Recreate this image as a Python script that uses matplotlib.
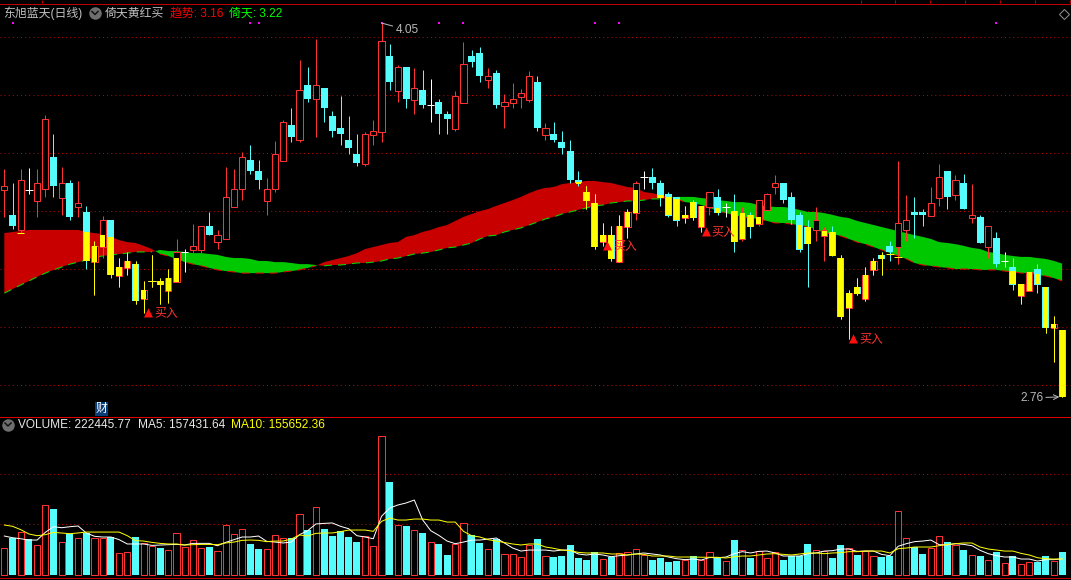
"""东旭蓝天 daily candles with the 倚天 band and a volume panel"""
import numpy as np
import matplotlib
matplotlib.use("Agg")
import matplotlib.pyplot as plt

plt.rcParams['font.family'] = ['Liberation Sans', 'Noto Sans CJK SC', 'DejaVu Sans']

opens = [3.474, 3.388, 3.336, 3.474, 3.436, 3.477, 3.588, 3.446, 3.498, 3.415,
         3.398, 3.225, 3.277, 3.370, 3.177, 3.205, 3.218, 3.098, 3.160, 3.160,
         3.125, 3.156, 3.260, 3.267, 3.267, 3.350, 3.294, 3.305, 3.415, 3.477,
         3.577, 3.539, 3.436, 3.477, 3.574, 3.698, 3.646, 3.836, 3.788, 3.825,
         3.729, 3.688, 3.646, 3.598, 3.563, 3.663, 3.674, 3.936, 3.815, 3.898,
         3.784, 3.819, 3.767, 3.777, 3.736, 3.684, 3.774, 3.936, 3.946, 3.853,
         3.877, 3.763, 3.774, 3.794, 3.784, 3.846, 3.663, 3.667, 3.639, 3.608,
         3.508, 3.467, 3.429, 3.294, 3.318, 3.225, 3.346, 3.394, 3.519, 3.519,
         3.498, 3.460, 3.450, 3.377, 3.432, 3.346, 3.415, 3.450, 3.415, 3.401,
         3.305, 3.388, 3.356, 3.405, 3.484, 3.498, 3.450, 3.388, 3.346, 3.336,
         3.315, 3.329, 3.239, 3.067, 3.139, 3.098, 3.198, 3.250, 3.281, 3.277,
         3.336, 3.398, 3.398, 3.384, 3.446, 3.539, 3.456, 3.498, 3.377, 3.381,
         3.277, 3.308, 3.229, 3.208, 3.108, 3.125, 3.201, 3.139, 2.998, 2.991]
closes = [3.487, 3.350, 3.508, 3.474, 3.498, 3.719, 3.487, 3.498, 3.381, 3.429,
          3.229, 3.281, 3.370, 3.181, 3.208, 3.229, 3.091, 3.129, 3.160, 3.146,
          3.170, 3.260, 3.260, 3.281, 3.350, 3.318, 3.318, 3.450, 3.477, 3.588,
          3.539, 3.508, 3.477, 3.598, 3.708, 3.656, 3.819, 3.788, 3.836, 3.757,
          3.677, 3.667, 3.619, 3.567, 3.667, 3.677, 3.988, 3.846, 3.898, 3.788,
          3.825, 3.767, 3.767, 3.736, 3.719, 3.798, 3.908, 3.915, 3.867, 3.867,
          3.767, 3.777, 3.788, 3.808, 3.867, 3.688, 3.688, 3.646, 3.619, 3.508,
          3.498, 3.436, 3.277, 3.318, 3.236, 3.350, 3.398, 3.498, 3.519, 3.498,
          3.446, 3.384, 3.367, 3.388, 3.377, 3.419, 3.467, 3.394, 3.415, 3.294,
          3.394, 3.346, 3.439, 3.460, 3.498, 3.439, 3.370, 3.267, 3.287, 3.370,
          3.336, 3.246, 3.036, 3.118, 3.115, 3.181, 3.229, 3.236, 3.260, 3.360,
          3.370, 3.388, 3.388, 3.429, 3.519, 3.450, 3.508, 3.408, 3.388, 3.291,
          3.350, 3.218, 3.229, 3.146, 3.149, 3.191, 3.146, 2.998, 3.011, 2.760]
highs = [3.546, 3.498, 3.546, 3.550, 3.546, 3.732, 3.667, 3.553, 3.508, 3.505,
         3.419, 3.298, 3.384, 3.370, 3.239, 3.260, 3.229, 3.160, 3.250, 3.170,
         3.201, 3.305, 3.270, 3.356, 3.350, 3.398, 3.336, 3.553, 3.546, 3.605,
         3.629, 3.577, 3.515, 3.643, 3.715, 3.757, 3.922, 3.898, 3.994, 3.825,
         3.746, 3.798, 3.729, 3.667, 3.674, 3.715, 4.050, 3.977, 3.905, 3.898,
         3.894, 3.888, 3.857, 3.788, 3.746, 3.815, 3.984, 3.957, 3.967, 3.894,
         3.888, 3.805, 3.843, 3.822, 3.884, 3.867, 3.705, 3.708, 3.677, 3.646,
         3.539, 3.487, 3.460, 3.360, 3.350, 3.388, 3.408, 3.505, 3.539, 3.550,
         3.508, 3.467, 3.450, 3.419, 3.439, 3.419, 3.467, 3.477, 3.429, 3.460,
         3.415, 3.398, 3.439, 3.463, 3.525, 3.498, 3.467, 3.398, 3.370, 3.415,
         3.346, 3.350, 3.250, 3.129, 3.170, 3.208, 3.239, 3.260, 3.298, 3.574,
         3.456, 3.450, 3.408, 3.484, 3.563, 3.539, 3.525, 3.529, 3.494, 3.388,
         3.350, 3.329, 3.260, 3.239, 3.149, 3.212, 3.218, 3.139, 3.039, 2.991]
lows = [3.381, 3.339, 3.325, 3.460, 3.381, 3.450, 3.450, 3.388, 3.370, 3.381,
        3.201, 3.112, 3.239, 3.170, 3.139, 3.181, 3.081, 3.049, 3.139, 3.081,
        3.084, 3.156, 3.191, 3.250, 3.250, 3.318, 3.270, 3.305, 3.415, 3.439,
        3.529, 3.477, 3.388, 3.467, 3.574, 3.639, 3.639, 3.777, 3.656, 3.708,
        3.656, 3.629, 3.598, 3.556, 3.556, 3.629, 3.639, 3.819, 3.777, 3.757,
        3.736, 3.757, 3.708, 3.667, 3.667, 3.677, 3.774, 3.898, 3.846, 3.825,
        3.757, 3.688, 3.757, 3.757, 3.777, 3.677, 3.646, 3.639, 3.598, 3.498,
        3.487, 3.408, 3.270, 3.281, 3.229, 3.225, 3.308, 3.370, 3.477, 3.477,
        3.419, 3.381, 3.350, 3.360, 3.370, 3.329, 3.388, 3.388, 3.381, 3.260,
        3.298, 3.308, 3.350, 3.405, 3.460, 3.429, 3.356, 3.260, 3.139, 3.298,
        3.229, 3.246, 3.029, 2.960, 3.112, 3.091, 3.181, 3.181, 3.229, 3.218,
        3.298, 3.308, 3.350, 3.384, 3.419, 3.408, 3.439, 3.408, 3.360, 3.291,
        3.239, 3.208, 3.208, 3.129, 3.081, 3.125, 3.118, 2.981, 2.880, 2.760]

# yellow sticks painted over the candles
yellow_idx = [2, 10, 11, 12, 13, 14, 15, 16, 17, 18, 19, 20, 21, 70, 71, 72, 73, 74, 75, 76,
              77, 80, 81, 82, 83, 84, 85, 87, 89, 90, 91, 92, 97, 98, 100, 101, 102, 103,
              104, 105, 106, 107, 108, 109, 123, 124, 125, 126, 127, 128, 129]
yellow_top = [3.325, 3.329, 3.281, 3.318, 3.312, 3.208, 3.229, 3.218, 3.129, 3.160, 3.160,
              3.170, 3.239, 3.501, 3.467, 3.429, 3.318, 3.318, 3.350, 3.398, 3.474, 3.456,
              3.450, 3.443, 3.388, 3.432, 3.419, 3.412, 3.401, 3.394, 3.388, 3.381, 3.353,
              3.346, 3.332, 3.329, 3.239, 3.118, 3.139, 3.181, 3.229, 3.250, 3.253, 3.243,
              3.194, 3.149, 3.191, 3.184, 3.139, 3.011, 2.991]
yellow_bot = [3.325, 3.229, 3.225, 3.277, 3.181, 3.177, 3.205, 3.091, 3.098, 3.160, 3.146,
              3.125, 3.156, 3.494, 3.436, 3.277, 3.294, 3.236, 3.225, 3.346, 3.394, 3.446,
              3.388, 3.370, 3.377, 3.377, 3.346, 3.394, 3.294, 3.305, 3.346, 3.356, 3.270,
              3.287, 3.315, 3.246, 3.036, 3.067, 3.115, 3.098, 3.198, 3.236, 3.253, 3.243,
              3.149, 3.108, 3.125, 3.149, 2.998, 2.998, 2.760]
yellow_wick_idx = [11, 14, 15, 16, 17, 18, 19, 20, 71, 72, 73, 74, 75, 76, 83, 84, 85,
                   102, 103, 104, 105, 106, 107, 124, 127, 128, 129]

# 趋势 and 倚天 curves, the band between them
trend = [3.325, 3.329, 3.332, 3.336, 3.336, 3.336, 3.336, 3.336, 3.336, 3.336,
         3.329, 3.325, 3.322, 3.312, 3.301, 3.294, 3.291, 3.281, 3.270, 3.253,
         3.246, 3.236, 3.225, 3.218, 3.212, 3.205, 3.198, 3.194, 3.191, 3.187,
         3.187, 3.187, 3.187, 3.187, 3.191, 3.194, 3.198, 3.205, 3.212, 3.225,
         3.232, 3.239, 3.246, 3.256, 3.270, 3.277, 3.284, 3.291, 3.294, 3.312,
         3.318, 3.329, 3.336, 3.346, 3.353, 3.367, 3.381, 3.391, 3.401, 3.408,
         3.419, 3.429, 3.439, 3.450, 3.463, 3.474, 3.481, 3.484, 3.494, 3.498,
         3.501, 3.505, 3.505, 3.501, 3.498, 3.491, 3.484, 3.481, 3.467, 3.463,
         3.456, 3.450, 3.443, 3.432, 3.429, 3.422, 3.412, 3.401, 3.394, 3.388,
         3.381, 3.377, 3.374, 3.367, 3.360, 3.360, 3.356, 3.353, 3.346, 3.339,
         3.325, 3.322, 3.315, 3.305, 3.294, 3.287, 3.277, 3.267, 3.256, 3.246,
         3.236, 3.222, 3.215, 3.212, 3.208, 3.205, 3.201, 3.201, 3.201, 3.198,
         3.198, 3.198, 3.194, 3.191, 3.187, 3.187, 3.181, 3.177, 3.170, 3.160]
yitian = [3.118, 3.132, 3.146, 3.160, 3.174, 3.187, 3.198, 3.208, 3.218, 3.225,
          3.232, 3.243, 3.246, 3.250, 3.253, 3.256, 3.260, 3.260, 3.260, 3.267,
          3.263, 3.263, 3.260, 3.256, 3.256, 3.253, 3.250, 3.243, 3.239, 3.239,
          3.236, 3.229, 3.229, 3.225, 3.225, 3.222, 3.218, 3.218, 3.215, 3.212,
          3.215, 3.215, 3.218, 3.222, 3.222, 3.225, 3.229, 3.236, 3.239, 3.246,
          3.253, 3.256, 3.260, 3.267, 3.274, 3.277, 3.284, 3.291, 3.305, 3.315,
          3.318, 3.329, 3.336, 3.343, 3.353, 3.363, 3.374, 3.381, 3.391, 3.398,
          3.405, 3.412, 3.419, 3.422, 3.429, 3.432, 3.436, 3.436, 3.439, 3.443,
          3.443, 3.446, 3.450, 3.450, 3.450, 3.446, 3.443, 3.439, 3.436, 3.432,
          3.432, 3.429, 3.422, 3.419, 3.415, 3.415, 3.412, 3.405, 3.398, 3.398,
          3.394, 3.388, 3.381, 3.377, 3.367, 3.360, 3.353, 3.346, 3.339, 3.332,
          3.325, 3.318, 3.312, 3.305, 3.294, 3.291, 3.287, 3.281, 3.274, 3.270,
          3.260, 3.256, 3.250, 3.246, 3.243, 3.243, 3.239, 3.236, 3.229, 3.220]

buy_idx = [17, 73, 85, 103]
signal_idx = [1, 30, 31, 46, 53, 56, 72, 75, 121]

# volume, thousands of lots
volume = [264.0, 359.7, 422.4, 353.1, 293.7, 689.7, 653.4, 323.4, 402.6, 363.0,
          412.5, 363.0, 366.3, 372.9, 214.5, 224.4, 376.2, 313.5, 287.1, 267.3,
          244.2, 412.5, 273.9, 343.2, 264.0, 277.2, 234.3, 491.7, 402.6, 452.1,
          306.9, 257.4, 254.1, 392.7, 363.0, 363.0, 600.6, 445.5, 669.9, 455.4,
          386.1, 435.6, 376.2, 326.7, 379.5, 283.8, 1372.8, 920.7, 491.7, 485.1,
          442.2, 415.8, 323.4, 306.9, 198.0, 306.9, 511.5, 396.0, 316.8, 254.1,
          353.1, 204.6, 204.6, 174.9, 297.0, 356.4, 184.8, 178.2, 188.1, 297.0,
          168.3, 148.5, 227.7, 155.1, 174.9, 214.5, 224.4, 254.1, 194.7, 148.5,
          168.3, 128.7, 138.6, 148.5, 188.1, 148.5, 224.4, 165.0, 135.3, 346.5,
          244.2, 168.3, 234.3, 165.0, 224.4, 148.5, 188.1, 188.1, 306.9, 244.2,
          234.3, 168.3, 297.0, 264.0, 198.0, 234.3, 184.8, 178.2, 188.1, 630.3,
          363.0, 273.9, 207.9, 264.0, 382.8, 326.7, 297.0, 247.5, 194.7, 188.1,
          145.2, 227.7, 115.5, 188.1, 105.6, 125.4, 128.7, 188.1, 138.6, 222.44577]
vol_down_idx = [1, 3, 6, 8, 10, 13, 16, 19, 25, 30, 31, 35, 37, 39, 40, 41, 42, 43, 47, 49,
                51, 53, 54, 57, 58, 60, 65, 67, 68, 69, 70, 71, 72, 74, 79, 80, 81, 82, 84,
                87, 89, 91, 95, 96, 97, 98, 101, 102, 104, 107, 108, 111, 112, 115, 117,
                119, 121, 123, 126, 127, 129]
ma5 = [383, 366, 356, 343, 343, 419, 475, 465, 475, 482,
       413, 380, 373, 373, 347, 304, 304, 304, 290, 294,
       297, 300, 294, 310, 310, 310, 287, 320, 347, 373,
       373, 383, 330, 323, 314, 323, 396, 436, 502, 508,
       512, 479, 455, 386, 373, 356, 578, 660, 690, 710,
       739, 545, 436, 389, 333, 307, 323, 343, 343, 353,
       363, 314, 264, 234, 244, 244, 244, 234, 244, 244,
       205, 195, 205, 195, 178, 188, 195, 205, 215, 205,
       195, 175, 158, 149, 155, 145, 170, 168, 175, 208,
       228, 215, 231, 234, 215, 185, 185, 185, 208, 215,
       234, 238, 254, 254, 231, 234, 234, 201, 188, 281,
       307, 327, 333, 343, 297, 294, 307, 300, 287, 241,
       208, 188, 175, 175, 155, 155, 135, 149, 149, 157.43]
ma10 = [492, 479, 446, 403, 386, 396, 419, 413, 406, 413,
        422, 422, 422, 422, 422, 386, 337, 333, 320, 310,
        304, 304, 294, 297, 300, 300, 297, 314, 323, 340,
        343, 340, 327, 333, 333, 353, 393, 383, 409, 413,
        413, 426, 442, 442, 442, 429, 528, 561, 541, 541,
        551, 551, 541, 541, 521, 521, 429, 386, 373, 347,
        333, 320, 304, 294, 304, 304, 274, 261, 244, 238,
        221, 215, 215, 215, 205, 205, 195, 205, 201, 185,
        185, 185, 175, 175, 175, 173, 173, 172, 165, 178,
        185, 185, 195, 205, 208, 201, 195, 205, 215, 215,
        208, 215, 218, 228, 228, 234, 234, 234, 215, 257,
        264, 274, 274, 274, 287, 300, 307, 314, 314, 274,
        254, 244, 234, 234, 211, 195, 168, 158, 155, 155.65]

RED = '#ff3232'
CYAN = '#54fcfc'
YELLOW = '#ffff00'
GRID = '#c00000'
LINE = '#c00000'
W, H = 1071, 580
STEP = 8.2    # pixels per bar
X0 = 4.3
BODY = 6.2 / STEP
PX = 0.72     # one pixel in points

idx = np.arange(len(opens))
opens, closes = np.array(opens), np.array(closes)
highs, lows = np.array(highs), np.array(lows)
trend, yitian = np.array(trend), np.array(yitian)

fig = plt.figure(figsize=(W / 100, H / 100), dpi=100, facecolor='black')
ax = fig.add_axes([0, (H - 416) / H, 1, 413 / H], facecolor='black')
vol_ax = fig.add_axes([0, (H - 577) / H, 1, 160 / H], facecolor='black')
top = fig.add_axes([0, 0, 1, 1], facecolor='none')
top.set_xlim(0, W)
top.set_ylim(H, 0)
top.axis('off')

for a in (ax, vol_ax):
    a.set_xlim(-X0 / STEP, (W - X0) / STEP)
    a.set_xticks([])
    a.set_axisbelow(True)
    for spine in a.spines.values():
        spine.set_visible(False)
    a.tick_params(length=0, labelleft=False)
    a.yaxis.grid(True, color=GRID, linewidth=PX, linestyle=(0, (1, 3.1)))

# price panel
ax.set_ylim(2.694, 4.119)
ax.set_yticks([2.8, 3.0, 3.2, 3.4, 3.6, 3.8, 4.0])

ax.fill_between(idx, trend, yitian, where=trend >= yitian, interpolate=True,
                color='#c80000', linewidth=0, zorder=1)
ax.fill_between(idx, trend, yitian, where=trend <= yitian, interpolate=True,
                color='#00c800', linewidth=0, zorder=1)
ax.plot(idx, np.where(trend > yitian, yitian, np.nan), color='#00e000',
        linewidth=PX, linestyle=(0, (8, 6)), zorder=1.5)
ax.plot(idx, np.where(trend < yitian, trend, np.nan), color='#e00000',
        linewidth=PX, linestyle=(0, (8, 6)), zorder=1.5)

up = closes > opens
down = closes < opens
flat = closes == opens
for mask, colour in ((up, RED), (down, CYAN), (flat, 'white')):
    ax.vlines(idx[mask], lows[mask], highs[mask], color=colour, linewidth=PX, zorder=2)
ax.bar(idx[up], (closes - opens)[up], bottom=opens[up], width=BODY, facecolor='black',
       edgecolor=RED, linewidth=PX, zorder=3)
ax.bar(idx[down], (opens - closes)[down], bottom=closes[down], width=BODY + 0.1,
       color=CYAN, linewidth=0, zorder=3)
ax.hlines(opens[flat], idx[flat] - 0.45, idx[flat] + 0.45, color='white', linewidth=PX, zorder=3)

yellow_idx = np.array(yellow_idx)
yellow_top, yellow_bot = np.array(yellow_top), np.array(yellow_bot)
ax.vlines(yellow_wick_idx, lows[yellow_wick_idx], highs[yellow_wick_idx], color=YELLOW,
          linewidth=PX, zorder=4)
thick = yellow_top > yellow_bot
ax.bar(yellow_idx[thick], (yellow_top - yellow_bot)[thick], bottom=yellow_bot[thick],
       width=5.2 / STEP, color=YELLOW, linewidth=0, zorder=5)
ax.hlines(yellow_top[~thick], yellow_idx[~thick] - 0.45, yellow_idx[~thick] + 0.45,
          color=YELLOW, linewidth=PX, zorder=5)

ax.plot(signal_idx, [4.05] * len(signal_idx), linestyle='none', marker='s',
        markersize=2.2 * PX, color='#ff00ff', markeredgewidth=0, zorder=6)

for i in buy_idx:
    ax.annotate('▲', xy=(i, lows[i]), xytext=(5 * PX, 0), textcoords='offset points',
                ha='center', va='center', color='#ff1010', fontsize=8.5,
                family='DejaVu Sans', zorder=7)
    ax.annotate('买入', xy=(i, lows[i]), xytext=(10.5 * PX, 0), textcoords='offset points',
                ha='left', va='center', color=RED, fontsize=8.6, zorder=7)

peak = int(np.argmax(highs))
trough = int(np.argmin(lows))
ax.annotate(f'{highs[peak]:.2f}', xy=(peak, highs[peak]), xytext=(14 * PX, -7 * PX),
            textcoords='offset points', ha='left', va='center', color='#b8b8b8', fontsize=8.6,
            arrowprops=dict(arrowstyle='-', color='#b8b8b8', linewidth=PX, shrinkA=0, shrinkB=0),
            zorder=7)
ax.annotate(f'{lows[trough]:.2f}', xy=(trough, lows[trough]), xytext=(-19 * PX, -1 * PX),
            textcoords='offset points', ha='right', va='center', color='#b8b8b8', fontsize=8.6,
            arrowprops=dict(arrowstyle='->', color='#b8b8b8', linewidth=PX, shrinkA=0, shrinkB=2),
            zorder=7)

# volume panel
vol_ax.set_ylim(-22.8, 1561)
vol_ax.set_yticks([500, 1000])
volume = np.array(volume)
is_down = np.isin(idx, vol_down_idx)
vol_ax.bar(idx[~is_down], volume[~is_down], width=BODY, facecolor='black', edgecolor=RED,
           linewidth=PX, zorder=2)
vol_ax.bar(idx[is_down], volume[is_down], width=BODY + 0.1, color=CYAN, linewidth=0, zorder=2)
vol_ax.plot(idx, ma5, color='white', linewidth=PX, zorder=3)
vol_ax.plot(idx, ma10, color=YELLOW, linewidth=PX, zorder=3)

# window frame, header texts and icons
top.plot([0, W], [3.5, 3.5], color=LINE, linewidth=PX)
top.plot([0, W], [416.5, 416.5], color='#e00000', linewidth=PX)
top.plot([0, W], [577.5, 577.5], color=LINE, linewidth=PX)
top.vlines([42, 861, 895, 930, 965, 1000, 1035, 1070], 0, 3, color=LINE, linewidth=PX)

TEXT = dict(va='center', ha='left', fontsize=8.6)
top.text(3, 13.5, '东旭蓝天(日线)', color='#c0c0c0', **TEXT)
top.text(105, 13.5, '倚天黄红买', color='#c0c0c0', **TEXT)
top.text(170, 13.5, f'趋势: {trend[-1]:.2f}', color='#ff0000', **TEXT)
top.text(229, 13.5, f'倚天: {yitian[-1]:.2f}', color='#00ff00', **TEXT)
top.text(18, 424.5, f'VOLUME: {volume[-1] * 1000:.2f}', color='#e8e8e8', **TEXT)
top.text(138, 424.5, 'MA5: 157431.64', color='#e8e8e8', **TEXT)
top.text(231, 424.5, 'MA10: 155652.36', color=YELLOW, **TEXT)
top.text(101.5, 409, '财', color='white', ha='center', va='center', fontsize=8.6,
         bbox=dict(boxstyle='square,pad=0.08', facecolor='#0a3c78', edgecolor='none'))

for cx, cy in ((95, 13), (8, 424.5)):
    top.plot(cx, cy, marker='o', markersize=12.5 * PX, color='#6e6e6e', markeredgewidth=0)
    top.plot([cx - 3, cx, cx + 3], [cy - 1.5, cy + 1.5, cy - 1.5], color='#111111', linewidth=PX * 1.5)
top.plot(1063.5, 13.5, marker='D', markersize=7.5 * PX, markerfacecolor='none',
         markeredgecolor='#909090', markeredgewidth=PX)

fig.savefig('out.png', dpi=100, facecolor='black')
